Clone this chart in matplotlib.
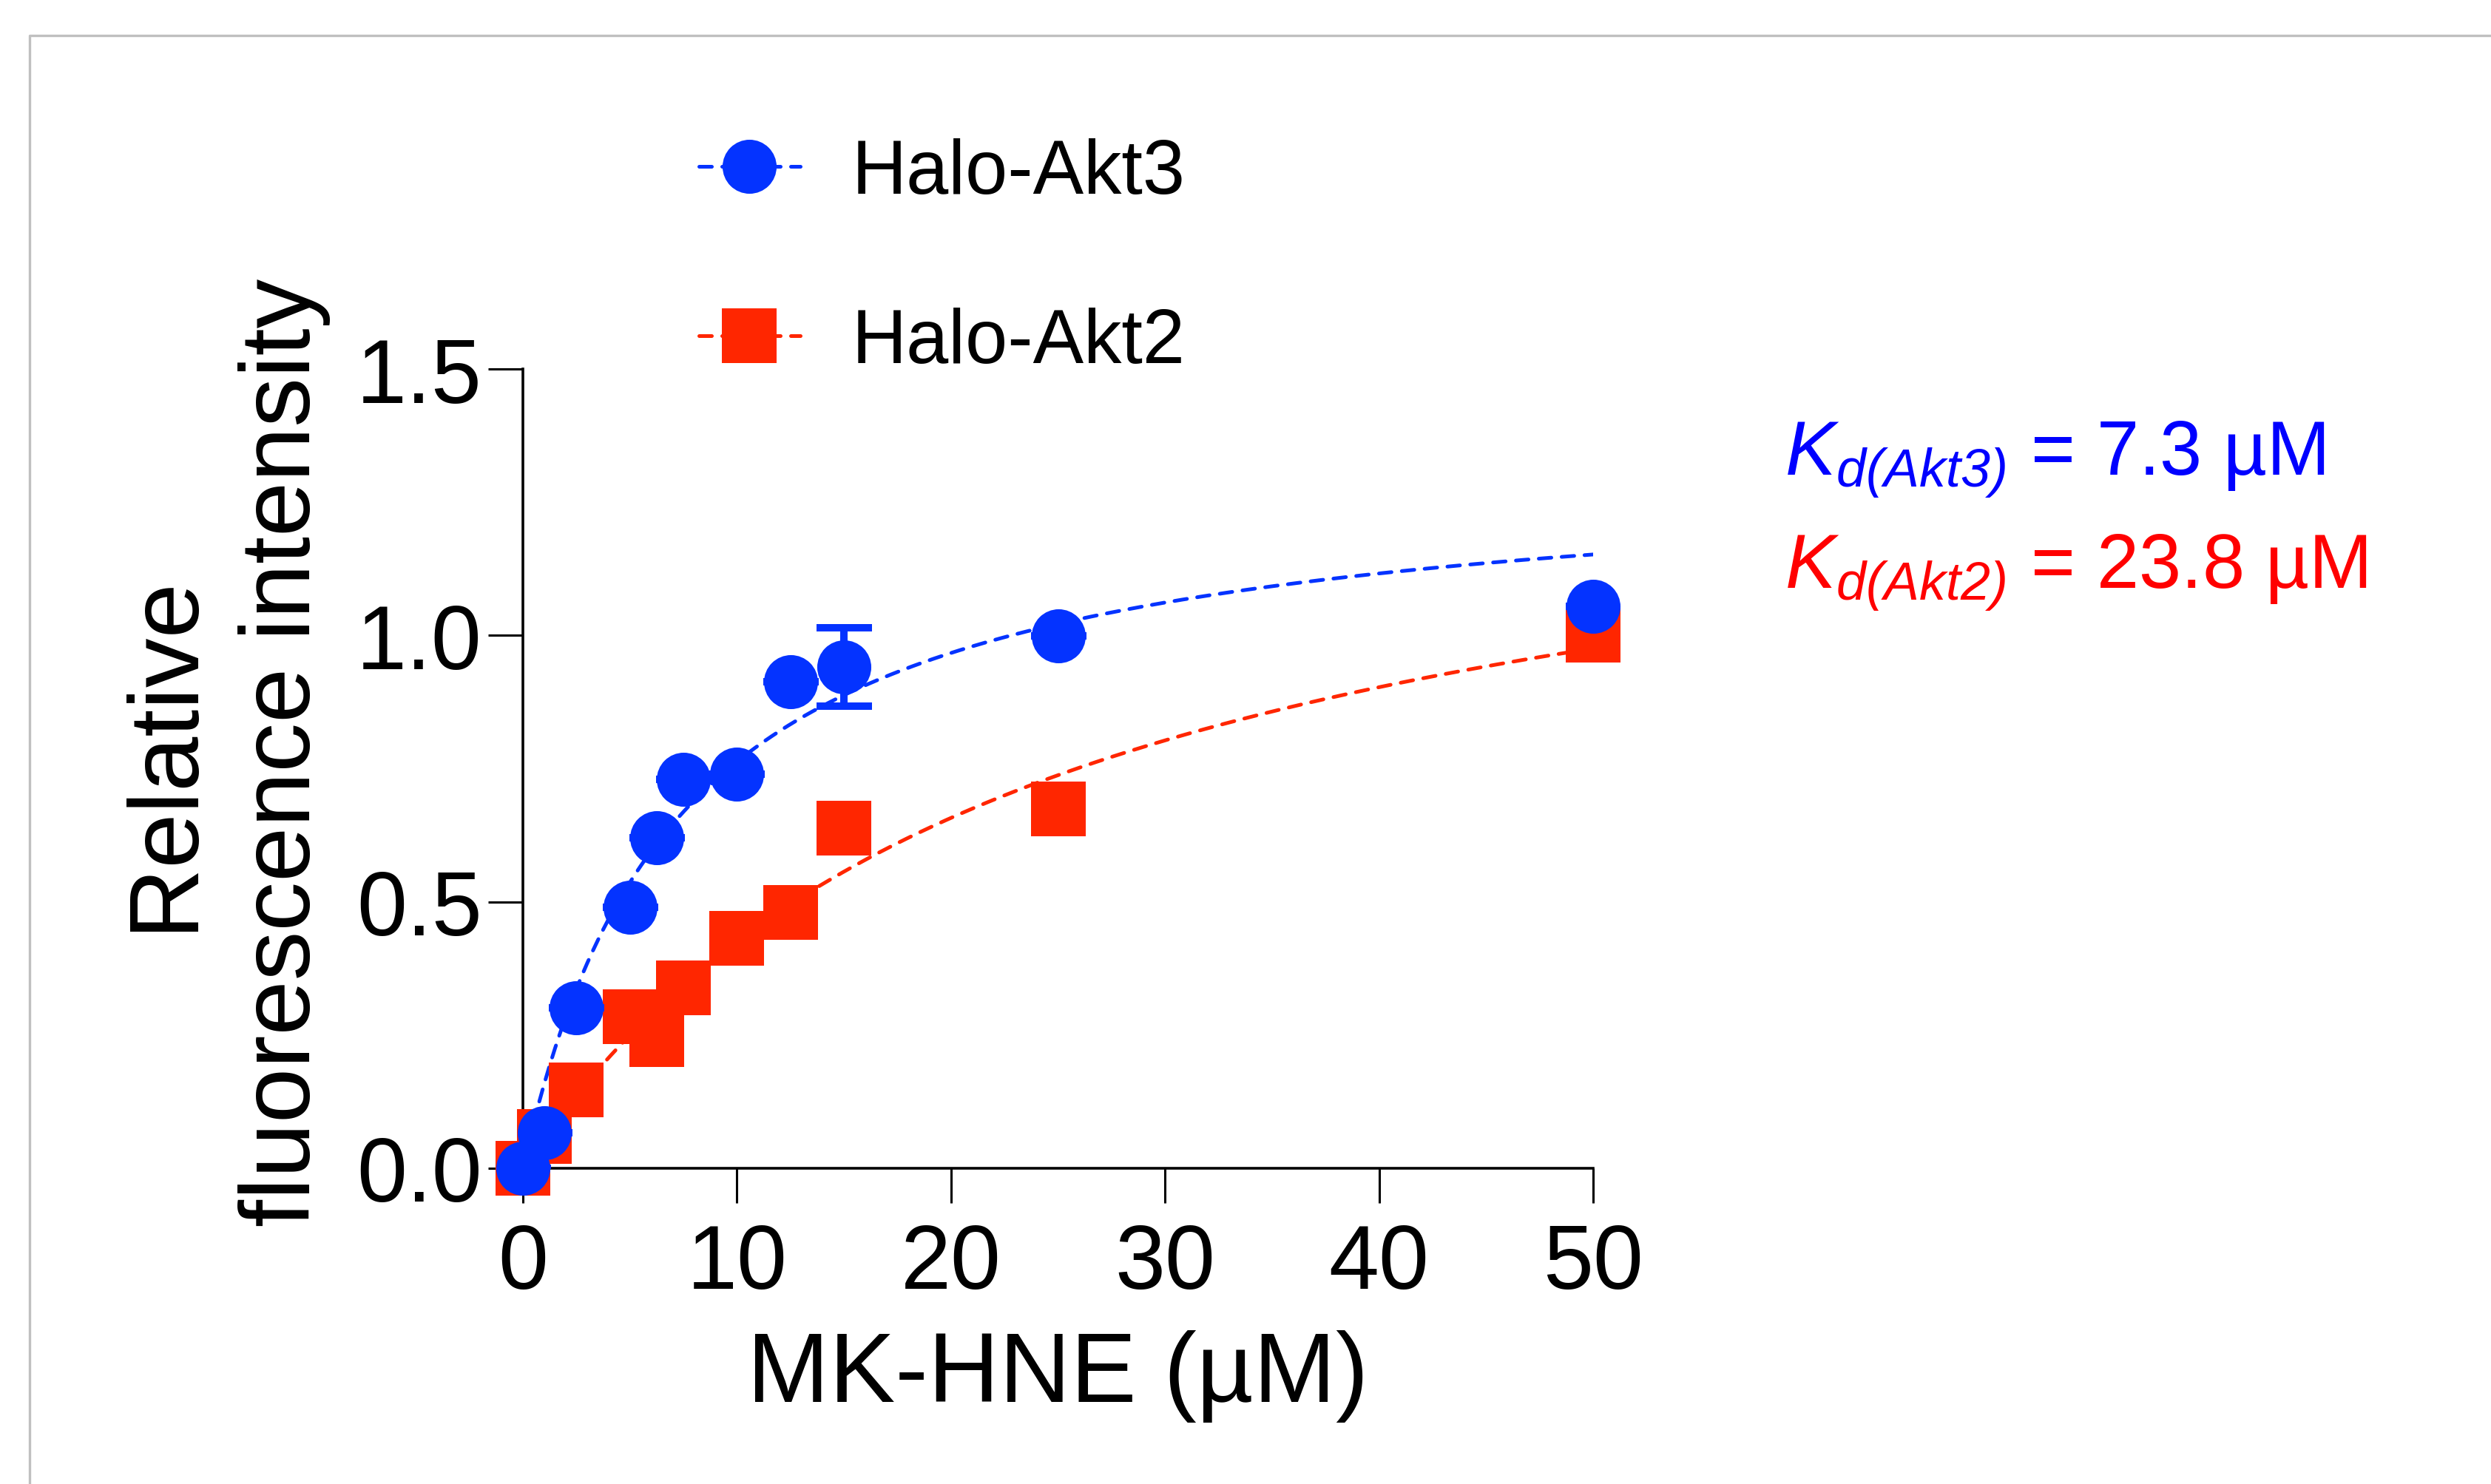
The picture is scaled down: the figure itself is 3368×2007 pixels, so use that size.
import numpy as np
import matplotlib
matplotlib.use("Agg")
import matplotlib.pyplot as plt
from matplotlib.lines import Line2D

plt.rcParams['font.family'] = ['Liberation Sans', 'DejaVu Sans']
plt.rcParams['mathtext.fontset'] = 'custom'
plt.rcParams['mathtext.rm'] = 'Liberation Sans'
plt.rcParams['mathtext.it'] = 'Liberation Sans:italic'
# sf slot used for fully italic subscripts (digits and brackets included)
plt.rcParams['mathtext.sf'] = 'Liberation Sans:italic'

# MK-HNE titration (uM) and normalised fluorescence
conc = [0, 1, 2.5, 5, 6.25, 7.5, 10, 12.5, 15, 25, 50]
akt3 = [0.0, 0.067, 0.301, 0.490, 0.620, 0.730, 0.739, 0.913, 0.941, 0.999, 1.055]
akt3_err = [0, 0, 0, 0, 0, 0, 0, 0, 0.074, 0, 0]
akt2 = [0.0, 0.060, 0.147, 0.284, 0.242, 0.339, 0.431, 0.480, 0.638, 0.674, 1.0]

# one-site binding fits
kd_akt3, bmax_akt3 = 7.3, 1.32
kd_akt2, bmax_akt2 = 23.8, 1.44

blue = '#0433FF'
red = '#FF2600'
dash = (0, (3.4, 2.8))

fig = plt.figure(figsize=(16.84, 10.04), dpi=200)
ax = fig.add_axes([707 / 3368, 1 - 1581 / 2008, (2154 - 707) / 3368, (1581 - 500) / 2008])

xfit = np.linspace(0, 50, 400)
ax.plot(xfit, bmax_akt2 * xfit / (kd_akt2 + xfit), color=red, lw=1.8, ls=dash,
        dash_capstyle='round', zorder=2)
ax.plot(xfit, bmax_akt3 * xfit / (kd_akt3 + xfit), color=blue, lw=1.8, ls=dash,
        dash_capstyle='round', zorder=2)

ax.plot(conc, akt2, 's', color=red, ms=26.3, mew=0, clip_on=False, zorder=3)
eb = ax.errorbar(conc, akt3, yerr=akt3_err, fmt='none', ecolor=blue,
                 elinewidth=3.6, capsize=13.5, capthick=3.6, zorder=4)
for cap in eb[1]:
    cap.set_solid_capstyle('round')
ax.plot(conc, akt3, 'o', color=blue, ms=26.3, mew=0, clip_on=False, zorder=5)

ax.set_xlim(0, 50)
ax.set_ylim(0, 1.5)
ax.set_xticks([0, 10, 20, 30, 40, 50])
ax.set_yticks([0, 0.5, 1.0, 1.5])
ax.set_yticklabels(['0.0', '0.5', '1.0', '1.5'])
for s in ['top', 'right']:
    ax.spines[s].set_visible(False)
for s in ['left', 'bottom']:
    ax.spines[s].set_linewidth(1.3)
ax.tick_params(axis='both', length=16.9, width=1.1, labelsize=44)
ax.tick_params(axis='y', pad=3)
ax.tick_params(axis='x', pad=9.5)

ax.set_xlabel('MK-HNE (µM)', fontsize=48, labelpad=11)
fig.text(304 / 3368, 1 - 1018 / 2008, 'Relative\nfluorescence intensity',
         rotation=90, ha='center', va='center', multialignment='center',
         fontsize=48, linespacing=1.37)

handles = [
    Line2D([], [], color=blue, lw=1.8, ls=dash, dash_capstyle='round',
           marker='o', ms=26.3, mew=0, label='Halo-Akt3'),
    Line2D([], [], color=red, lw=1.8, ls=dash, dash_capstyle='round',
           marker='s', ms=26.3, mew=0, label='Halo-Akt2'),
]
ax.legend(handles=handles, loc='upper left', bbox_transform=fig.transFigure,
          bbox_to_anchor=(945 / 3368, 1 - 187 / 2008), frameon=False,
          fontsize=37, borderpad=0, borderaxespad=0, handlelength=1.33,
          handletextpad=0.68, labelspacing=1.28)

fig.text(2413 / 3368, 1 - 643 / 2008, r'$\mathsf{K}_{\mathsf{d(Akt3)}}$ = 7.3 µM',
         color='#0000FF', fontsize=37, va='baseline', ha='left')
fig.text(2413 / 3368, 1 - 796 / 2008, r'$\mathsf{K}_{\mathsf{d(Akt2)}}$ = 23.8 µM',
         color='#FF0000', fontsize=37, va='baseline', ha='left')

# light grey frame running off the right and bottom edges
fig.add_artist(Line2D([40 / 3368, 40 / 3368, 1.01], [-0.01, 1 - 48.5 / 2008, 1 - 48.5 / 2008],
                      transform=fig.transFigure, color='#c0c0c0', lw=1.2))

fig.savefig('out.png', dpi=200, facecolor='white')
